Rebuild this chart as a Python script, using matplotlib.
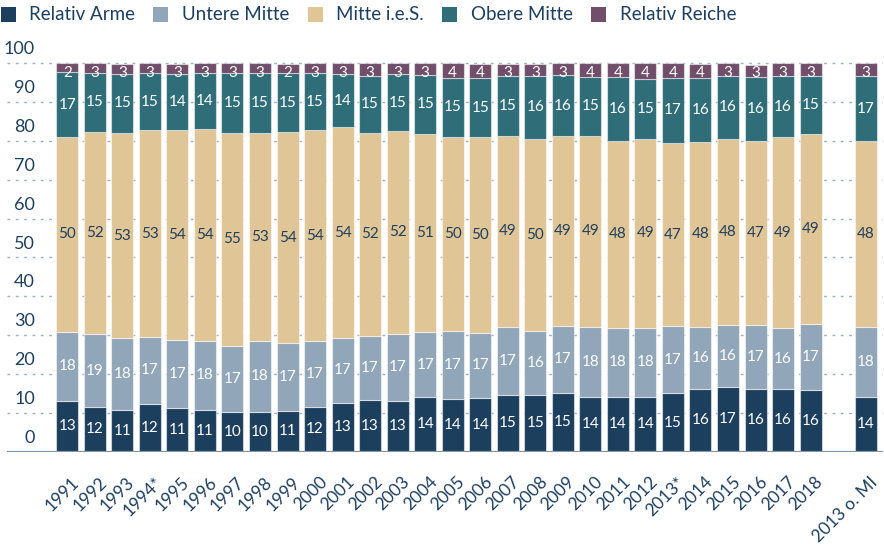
import matplotlib
matplotlib.use("Agg")
import matplotlib.pyplot as plt
from matplotlib.lines import Line2D
from matplotlib.transforms import ScaledTranslation

plt.rcParams['font.family'] = ['Lato', 'DejaVu Sans']

years = ['1991', '1992', '1993', '1994*', '1995', '1996', '1997', '1998', '1999', '2000',
         '2001', '2002', '2003', '2004', '2005', '2006', '2007', '2008', '2009', '2010',
         '2011', '2012', '2013*', '2014', '2015', '2016', '2017', '2018', '2013 o. MI']

arme = [13.05, 11.6, 10.8, 12.4, 11.3, 10.8, 10.3, 10.3, 10.6, 11.6,
        12.6, 13.2, 13.1, 14.1, 13.6, 13.9, 14.6, 14.6, 15.2, 14.2,
        14.2, 14.2, 15.0, 16.1, 16.7, 16.1, 16.1, 15.9, 14.2]
untere = [17.85, 18.6, 18.4, 17.2, 17.4, 17.8, 16.9, 18.3, 17.3, 16.9,
          16.7, 16.6, 17.2, 16.6, 17.4, 16.6, 17.4, 16.4, 17.2, 17.9,
          17.7, 17.7, 17.3, 16.0, 15.8, 16.6, 15.7, 17.1, 17.9]
mitte = [50.05, 52.2, 52.9, 53.1, 54.2, 54.4, 54.9, 53.4, 54.3, 54.2,
         54.2, 52.3, 52.3, 51.2, 50.1, 50.4, 49.4, 49.6, 48.9, 49.2,
         48.2, 48.7, 47.1, 47.7, 48.0, 47.3, 49.1, 48.9, 47.9]
obere = [16.8, 15.2, 15.2, 14.8, 14.3, 14.4, 15.4, 15.4, 15.3, 14.8,
         13.8, 14.6, 14.6, 15.0, 15.2, 15.2, 15.3, 16.1, 15.6, 15.2,
         16.3, 15.4, 16.9, 16.4, 16.3, 16.4, 15.9, 14.9, 16.6]
reiche = [2.3, 2.6, 2.6, 2.6, 2.7, 2.6, 2.6, 2.6, 2.4, 2.6,
          2.7, 3.3, 3.0, 3.1, 3.7, 3.7, 3.2, 3.2, 3.1, 3.6,
          3.7, 4.0, 3.7, 3.7, 3.2, 3.2, 3.2, 3.2, 3.4]

series = [('Relativ Arme', arme, '#1d3f5e', 'white'),
          ('Untere Mitte', untere, '#91a6b9', 'white'),
          ('Mitte i.e.S.', mitte, '#e0c596', '#1f3f5f'),
          ('Obere Mitte', obere, '#2f6e78', 'white'),
          ('Relativ Reiche', reiche, '#714f6a', 'white')]

text_color = '#1f3f5f'
positions = list(range(28)) + [29]

fig = plt.figure(figsize=(8.84, 5.44), dpi=100)
ax = fig.add_axes([7 / 884, 1 - 451.7 / 544, 876 / 884, (451.7 - 59.4) / 544])
ax.set_xlim(-2.19, 29.63)
ax.set_ylim(0, 101)

bottom = [0.0] * len(years)
for name, vals, color, lab_color in series:
    ax.bar(positions, vals, width=0.8, bottom=bottom, color=color,
           edgecolor=(1, 1, 1, 0.5), linewidth=0.8, zorder=3, label=name)
    for x, b, v in zip(positions, bottom, vals):
        y = min(b + v / 2, 97.5)
        ax.text(x, y, f'{v:.0f}', ha='center', va='center', fontsize=11,
                color=lab_color, zorder=4)
    bottom = [b + v for b, v in zip(bottom, vals)]

# gridlines and baseline
ax.set_yticks(range(0, 101, 10))
ax.yaxis.grid(True, color='#9fb0c0', linestyle=(0, (2, 4)), linewidth=1)
ax.set_axisbelow(True)
ax.tick_params(axis='y', length=0, labelleft=False)
ax.axhline(0, color='#8096aa', linewidth=1.6, zorder=5)
for v in range(0, 101, 10):
    ax.text(-1.17, v + 3.6, str(v), ha='right', va='center', fontsize=13,
            color=text_color)

for s in ax.spines.values():
    s.set_visible(False)

ax.set_xticks(positions)
ax.set_xticklabels(years, rotation=45, ha='right', rotation_mode='anchor',
                   fontsize=12.5, color=text_color)
ax.tick_params(axis='x', length=0, pad=16)
offset = ScaledTranslation(0.04, 0, fig.dpi_scale_trans)
for lab in ax.get_xticklabels():
    lab.set_transform(lab.get_transform() + offset)

handles = [Line2D([], [], marker='s', linestyle='', markersize=10.8,
                  markerfacecolor=c, markeredgewidth=0) for _, _, c, _ in series]
fig.legend(handles, [s[0] for s in series], loc='center left',
           bbox_to_anchor=(0.0, 1 - 15 / 544), ncol=5, frameon=False,
           fontsize=13.5, labelcolor=text_color, handlelength=0.8,
           handletextpad=0.75, columnspacing=0.95, borderpad=0, borderaxespad=0)

fig.savefig('out.png', dpi=100)
